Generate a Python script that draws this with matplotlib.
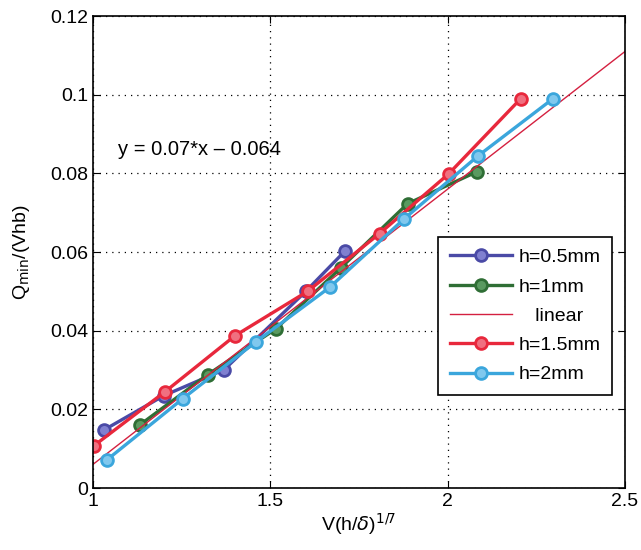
import matplotlib
matplotlib.use("Agg")
import matplotlib.pyplot as plt
import numpy as np

plt.rcParams['font.family'] = ['Liberation Sans', 'DejaVu Sans']

# data
x05 = [1.03, 1.20, 1.37, 1.60, 1.71]
y05 = [0.0147, 0.0235, 0.0301, 0.050, 0.0602]
x10 = [1.133, 1.323, 1.516, 1.699, 1.887, 2.082]
y10 = [0.0161, 0.0288, 0.0405, 0.056, 0.0723, 0.0804]
x15 = [1.002, 1.202, 1.40, 1.605, 1.808, 2.003, 2.206]
y15 = [0.0107, 0.0244, 0.0387, 0.050, 0.0647, 0.0799, 0.099]
x20 = [1.040, 1.253, 1.46, 1.667, 1.878, 2.085, 2.297]
y20 = [0.0072, 0.0227, 0.0372, 0.051, 0.0685, 0.0844, 0.099]
slope, intercept = 0.07, -0.064
xlin = [1.0, 2.5]

xticks = [1, 1.5, 2, 2.5]
xticklabels = ['1', '1.5', '2', '2.5']
yticks = [0, 0.02, 0.04, 0.06, 0.08, 0.1, 0.12]
yticklabels = ['0', '0.02', '0.04', '0.06', '0.08', '0.1', '0.12']

fig = plt.figure(figsize=(6.41, 5.5), dpi=100)
ax = fig.add_axes([0.145, 0.1127, 0.83, 0.858])

c05 = '#4a4aa6'
c10 = '#2f6e35'
c15 = '#e8283c'
c20 = '#3ba6dc'
clin = '#d42040'

def series(x, y, c, fc, label):
    ax.plot(x, y, '-o', color=c, lw=2.4, ms=8.5, mew=2.0, mfc=fc, mec=c, label=label)

series(x05, y05, c05, '#8080d0', 'h=0.5mm')
series(x10, y10, c10, '#5a9a60', 'h=1mm')
ylin = [slope * v + intercept for v in xlin]
ax.plot(xlin, ylin, '-', color=clin, lw=1.0, label='   linear')
series(x15, y15, c15, '#f07080', 'h=1.5mm')
series(x20, y20, c20, '#80c8ee', 'h=2mm')

ax.set_xlim(1, 2.5)
ax.set_ylim(0, 0.12)
ax.set_xticks(xticks)
ax.set_xticklabels(xticklabels)
ax.set_yticks(yticks)
ax.set_yticklabels(yticklabels)
ax.tick_params(direction='in', labelsize=14, length=5, top=True, right=True)
ax.grid(True, linestyle=(0, (1, 4)), color='black', lw=0.9)
for s in ax.spines.values():
    s.set_linewidth(1.2)

ax.text(1.07, 0.086, 'y = 0.07*x \u2013 0.064', fontsize=14.5, va='center', ha='left')

ax.set_xlabel(r'V(h/$\delta$)$^{1/7}$', fontsize=14, labelpad=1)
ax.set_ylabel(r'Q$_{\rm min}$/(Vhb)', fontsize=14, labelpad=13)

leg = ax.legend(loc='upper right', bbox_to_anchor=(0.976, 0.532), fontsize=14,
                frameon=True, fancybox=False, edgecolor='black', framealpha=1,
                handlelength=3.2, borderpad=0.6, labelspacing=0.6, handletextpad=0.35,
                borderaxespad=0)
leg.get_frame().set_linewidth(1.2)

fig.savefig('out.png', dpi=100)
